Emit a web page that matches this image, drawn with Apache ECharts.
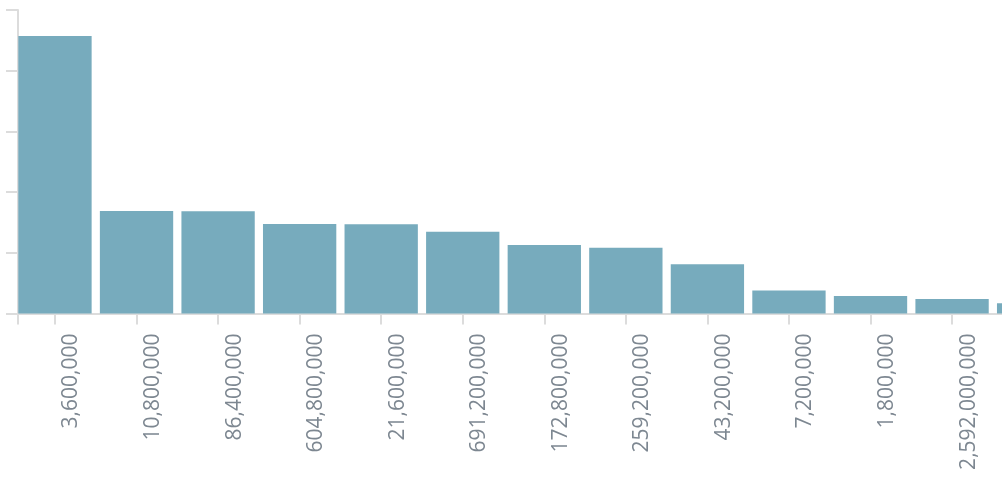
<!DOCTYPE html>
<html>
<head>
<meta charset="utf-8">
<script src="https://cdn.jsdelivr.net/npm/echarts@6/dist/echarts.min.js"></script>
<style>
html,body{margin:0;padding:0;background:#fff;}
#chart{width:1002px;height:490px;}
</style>
</head>
<body>
<div id="chart"></div>
<script>
// Category labels (durations in ms) and bar values
const categories = ["3,600,000","10,800,000","86,400,000","604,800,000","21,600,000","691,200,000","172,800,000","259,200,000","43,200,000","7,200,000","1,800,000","2,592,000,000","14,400,000"];
const values = [91.4, 33.8, 33.7, 29.5, 29.4, 26.9, 22.6, 21.7, 16.2, 7.6, 5.8, 4.8, 3.4];
const yMax = 100;
const yInterval = 20;

const axisColor = '#dcdcdc';
const chart = echarts.init(document.getElementById('chart'), null, {renderer:'canvas'});
chart.setOption({
  animation: false,
  grid: [
    {left: 14.2, top: 10, width: 1060.2, height: 303.5, containLabel: false, outerBoundsMode: 'none'},
    {left: 18, top: 10, width: 1100, height: 303.5, containLabel: false, outerBoundsMode: 'none'}
  ],
  xAxis: [
    {
      gridIndex: 0, type: 'category', data: categories,
      axisLine: {show: false},
      axisTick: {show: true, alignWithLabel: true, length: 11, lineStyle: {color: axisColor, width: 2}},
      axisLabel: {rotate: 90, margin: 20, color: '#7d8791', fontFamily: 'Open Sans', fontSize: 21, interval: 0, verticalAlign: 'top', lineHeight: 33},
      splitLine: {show: false}
    },
    {
      gridIndex: 1, type: 'value', min: 0, max: 1, interval: 1,
      axisLine: {show: true, lineStyle: {color: axisColor, width: 2}},
      axisTick: {show: true, length: 11, lineStyle: {color: axisColor, width: 2}},
      axisLabel: {show: false},
      splitLine: {show: false}
    }
  ],
  yAxis: [
    {gridIndex: 0, type: 'value', min: 0, max: yMax, show: false},
    {
      gridIndex: 1, type: 'value', min: 0, max: yMax, interval: yInterval,
      axisLine: {show: true, lineStyle: {color: axisColor, width: 2}},
      axisTick: {show: true, length: 12, lineStyle: {color: axisColor, width: 2}},
      axisLabel: {show: false},
      splitLine: {show: false}
    }
  ],
  series: [{
    type: 'bar', xAxisIndex: 0, yAxisIndex: 0,
    data: values,
    barCategoryGap: '10.1%',
    itemStyle: {color: '#77abbd'},
    z: 1
  }]
});
</script>
</body>
</html>
